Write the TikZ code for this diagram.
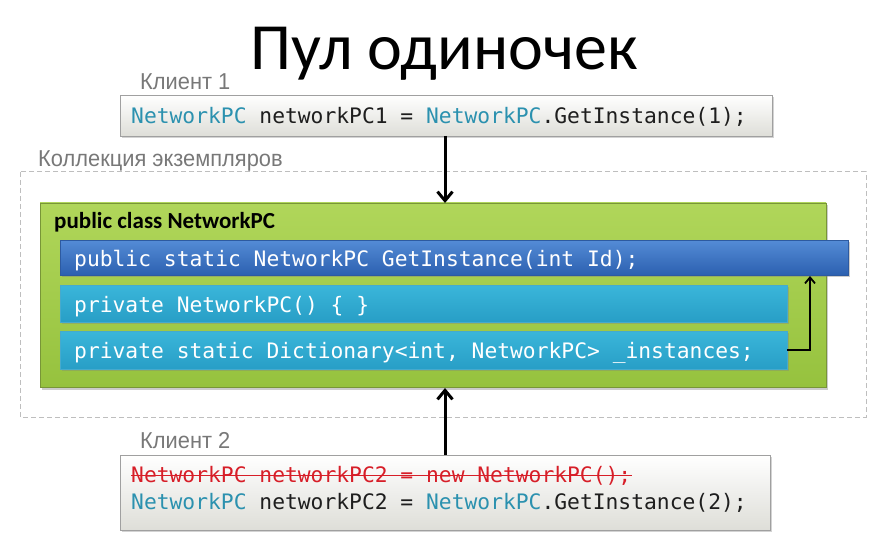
\documentclass[tikz,border=0pt]{standalone}
\usepackage{fontspec}
\setmainfont{Carlito}
\newfontfamily\codefont{DejaVu Sans Mono}
\newfontfamily\labelfont[FakeStretch=0.95]{Liberation Sans}
\usetikzlibrary{arrows.meta,shadows,calc}
\definecolor{typeblue}{RGB}{43,145,175}
\definecolor{codegray}{RGB}{30,30,30}
\definecolor{capgray}{RGB}{120,120,120}
\definecolor{strikered}{RGB}{215,30,40}
\tikzset{
  codebox/.style={draw={rgb,255:red,160;green,160;blue,160}, line width=0.8pt,
    top color=white, bottom color={rgb,255:red,222;green,222;blue,216},
    drop shadow={shadow xshift=1.5pt, shadow yshift=-2pt, opacity=0.35}},
  classbox/.style={draw={rgb,255:red,120;green,150;blue,55}, line width=0.8pt,
    top color={rgb,255:red,176;green,214;blue,90}, bottom color={rgb,255:red,150;green,194;blue,62},
    drop shadow={shadow xshift=1.5pt, shadow yshift=-2.5pt, opacity=0.4}},
  methodbox/.style={draw={rgb,255:red,45;green,90;blue,160}, line width=0.6pt,
    top color={rgb,255:red,84;green,140;blue,214}, bottom color={rgb,255:red,44;green,96;blue,176},
    drop shadow={shadow xshift=1.5pt, shadow yshift=-2pt, opacity=0.4}},
  memberbox/.style={draw={rgb,255:red,70;green,170;blue,205}, line width=0.6pt,
    top color={rgb,255:red,58;green,182;blue,218}, bottom color={rgb,255:red,40;green,158;blue,198},
    drop shadow={shadow xshift=1.5pt, shadow yshift=-2pt, opacity=0.35}},
  codetext/.style={font=\codefont\fontsize{21.3}{26}\selectfont},
  caption/.style={text=capgray, font=\labelfont\fontsize{23}{26}\selectfont, anchor=base west, inner sep=0pt},
  flow/.style={line width=3pt, -{Straight Barb[length=9pt,width=15pt,line width=3pt]}},
  backflow/.style={line width=1.8pt, -{Straight Barb[length=6pt,width=10pt,line width=1.8pt]}},
}
\begin{document}
\begin{tikzpicture}[x=1pt,y=-1pt]
\useasboundingbox (0,0) rectangle (882,553);

% title
\node[font=\fontsize{66}{72}\selectfont, anchor=base] (title) at (444,70) {Пул одиночек};

% first client
\node[caption] (cap1) at (140,90) {Клиент 1};
\draw[codebox] (120,95) rectangle (772,136);
\node[codetext, anchor=base west, inner sep=0pt, text=codegray] (c1) at (131,124)
  {\textcolor{typeblue}{NetworkPC} networkPC1 = \textcolor{typeblue}{NetworkPC}.GetInstance(1);};
\coordinate (c1bot) at (445,136);

% instance collection
\node[caption] (cap2) at (38,167) {Коллекция экземпляров};
\draw[dashed, draw={rgb,255:red,190;green,190;blue,190}, line width=1pt, dash pattern=on 5pt off 3pt]
  (20,172) rectangle (866,417);

% class box
\draw[classbox] (40,203) rectangle (826,387);
\coordinate (classtop) at (445,203);
\coordinate (classbot) at (445,388);
\node[anchor=base west, inner sep=0pt, font=\bfseries\fontsize{23}{26}\selectfont] (cls) at (54,229)
  {public class NetworkPC};

\draw[methodbox] (60,240) rectangle (848,275);
\node[codetext, anchor=base west, inner sep=0pt, text=white] (m1) at (74,266)
  {public static NetworkPC GetInstance(int Id);};
\coordinate (m1bot) at (810,276);

\draw[memberbox] (60,285) rectangle (787,322);
\node[codetext, anchor=base west, inner sep=0pt, text=white] (m2) at (74,312)
  {private NetworkPC() \{ \}};

\draw[memberbox] (60,331) rectangle (787,369);
\node[codetext, anchor=base west, inner sep=0pt, text=white] (m3) at (74,358)
  {private static Dictionary<int, NetworkPC> \_instances;};
\coordinate (m3right) at (787,350);

\draw[backflow] (m3right) -- (810,350) -- (m1bot);

% second client
\node[caption] (cap3) at (140,448) {Клиент 2};
\draw[codebox] (120,455) rectangle (770,530);
\coordinate (c2top) at (445,455);
\node[codetext, anchor=base west, inner sep=0pt, text=strikered] (c2a) at (131,482)
  {NetworkPC networkPC2 = new NetworkPC();};
\draw[strikered, line width=1.2pt] ($(c2a.base west)+(0,-6.5)$) -- ($(c2a.base east)+(0,-6.5)$);
\node[codetext, anchor=base west, inner sep=0pt, text=codegray] (c2b) at (131,509)
  {\textcolor{typeblue}{NetworkPC} networkPC2 = \textcolor{typeblue}{NetworkPC}.GetInstance(2);};

% connectors
\draw[flow] (c1bot) -- (classtop);
\draw[flow] (c2top) -- (classbot);
\end{tikzpicture}
\end{document}
